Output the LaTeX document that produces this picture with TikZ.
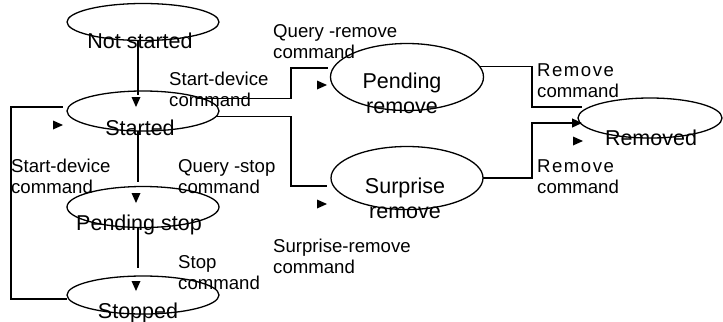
\documentclass[tikz,border=0pt]{standalone}
\usepackage{fontspec}
\setmainfont{Liberation Sans}
\usetikzlibrary{shapes.geometric,arrows.meta}
\begin{document}
\begin{tikzpicture}[x=1bp,y=-1bp,
  state/.style={draw,ellipse,line width=1.3bp,inner sep=0pt,outer sep=0pt},
  stxt/.style={inner sep=0pt,anchor=base,font=\fontsize{21.5bp}{25bp}\selectfont,align=center},
  lbl/.style={inner sep=0pt,anchor=base west,font=\fontsize{18.6bp}{21bp}\selectfont,align=left},
  wire/.style={line width=1.2bp},
  tipR/.pic={\fill (-10,-4.5) -- (0,0) -- (-10,4.5) -- cycle;},
  tipD/.pic={\fill (-4.5,-10) -- (0,0) -- (4.5,-10) -- cycle;}]
\useasboundingbox (0,0) rectangle (723,321);

% device states
\node[state,minimum width=152bp,minimum height=37bp] (ns) at (143,22) {};
\node[state,minimum width=152bp,minimum height=40bp] (st) at (143,111) {};
\node[state,minimum width=152bp,minimum height=41bp] (ps) at (143,207) {};
\node[state,minimum width=152bp,minimum height=38bp] (sp) at (143,295) {};
\node[state,minimum width=153bp,minimum height=67bp] (pr) at (407,77) {};
\node[state,minimum width=152bp,minimum height=63bp] (sr) at (407,178) {};
\node[state,minimum width=144bp,minimum height=40bp] (rm) at (650,118) {};

% state names (base anchor = baseline of the last line)
\node[stxt] (tns) at (140,48) {Not started};
\node[stxt] (tst) at (140,135) {Started};
\node[stxt] (tps) at (139,230) {Pending stop};
\node[stxt] (tsp) at (138,318) {Stopped};
\node[stxt] (tpr) at (402,113) {Pending\\remove};
\node[stxt] (tsr) at (405,218) {Surprise\\remove};
\node[stxt] (trm) at (651,145) {Removed};

% transition labels
\node[lbl] (l1) at (169,106) {Start-device\\command};
\node[lbl] (l2) at (273,58) {Query -remove\\command};
\node[lbl] (l3) at (537,97) {{\addfontfeature{LetterSpace=8}Remove}\\command};
\node[lbl] (l4) at (11,193) {Start-device\\command};
\node[lbl] (l5) at (178,193) {Query -stop\\command};
\node[lbl] (l6) at (178,289) {Stop\\command};
\node[lbl] (l7) at (537,193) {{\addfontfeature{LetterSpace=8}Remove}\\command};
\node[lbl] (l8) at (273,273) {Surprise-remove\\command};

% bend points
\coordinate (rail) at (11,200);
\coordinate (ju) at (291,80);
\coordinate (jd) at (291,150);
\coordinate (jr) at (532,90);
\coordinate (jr2) at (532,150);

% connectors
\draw[wire,shorten >=-4bp] ([xshift=-5bp]ns.south) -- ([xshift=-5bp]st.north);
\draw[wire,shorten >=5bp] ([xshift=-5bp]st.south) -- ([xshift=-5bp]ps.north);
\draw[wire,shorten >=8bp] ([xshift=-5bp]ps.south) -- ([xshift=-5bp]sp.north);
\draw[wire] ([shift={(-4bp,4bp)}]st.west) -| (rail) |- ([yshift=-4bp]sp.west);
\draw[wire,shorten >=3bp] ([yshift=-2bp]st.north east) -| (ju) |- ([yshift=9bp]pr.west);
\draw[wire,shorten >=4bp] (st.-4) -| (jd) |- ([yshift=-8bp]sr.west);
\draw[wire] (pr.8) -| (jr) |- ([shift={(4bp,11bp)}]rm.west);
\draw[wire,-{Triangle[length=10bp,width=9bp]}] (sr.east) -| (jr2) |- ([shift={(4bp,-5bp)}]rm.west);

% arrowheads
\pic at (136,107) {tipD};
\pic at (63,125) {tipR};
\pic at (136,203) {tipD};
\pic at (136,291) {tipD};
\pic at (327,85) {tipR};
\pic at (327,204) {tipR};
\pic at (583,141) {tipR};
\end{tikzpicture}
\end{document}
